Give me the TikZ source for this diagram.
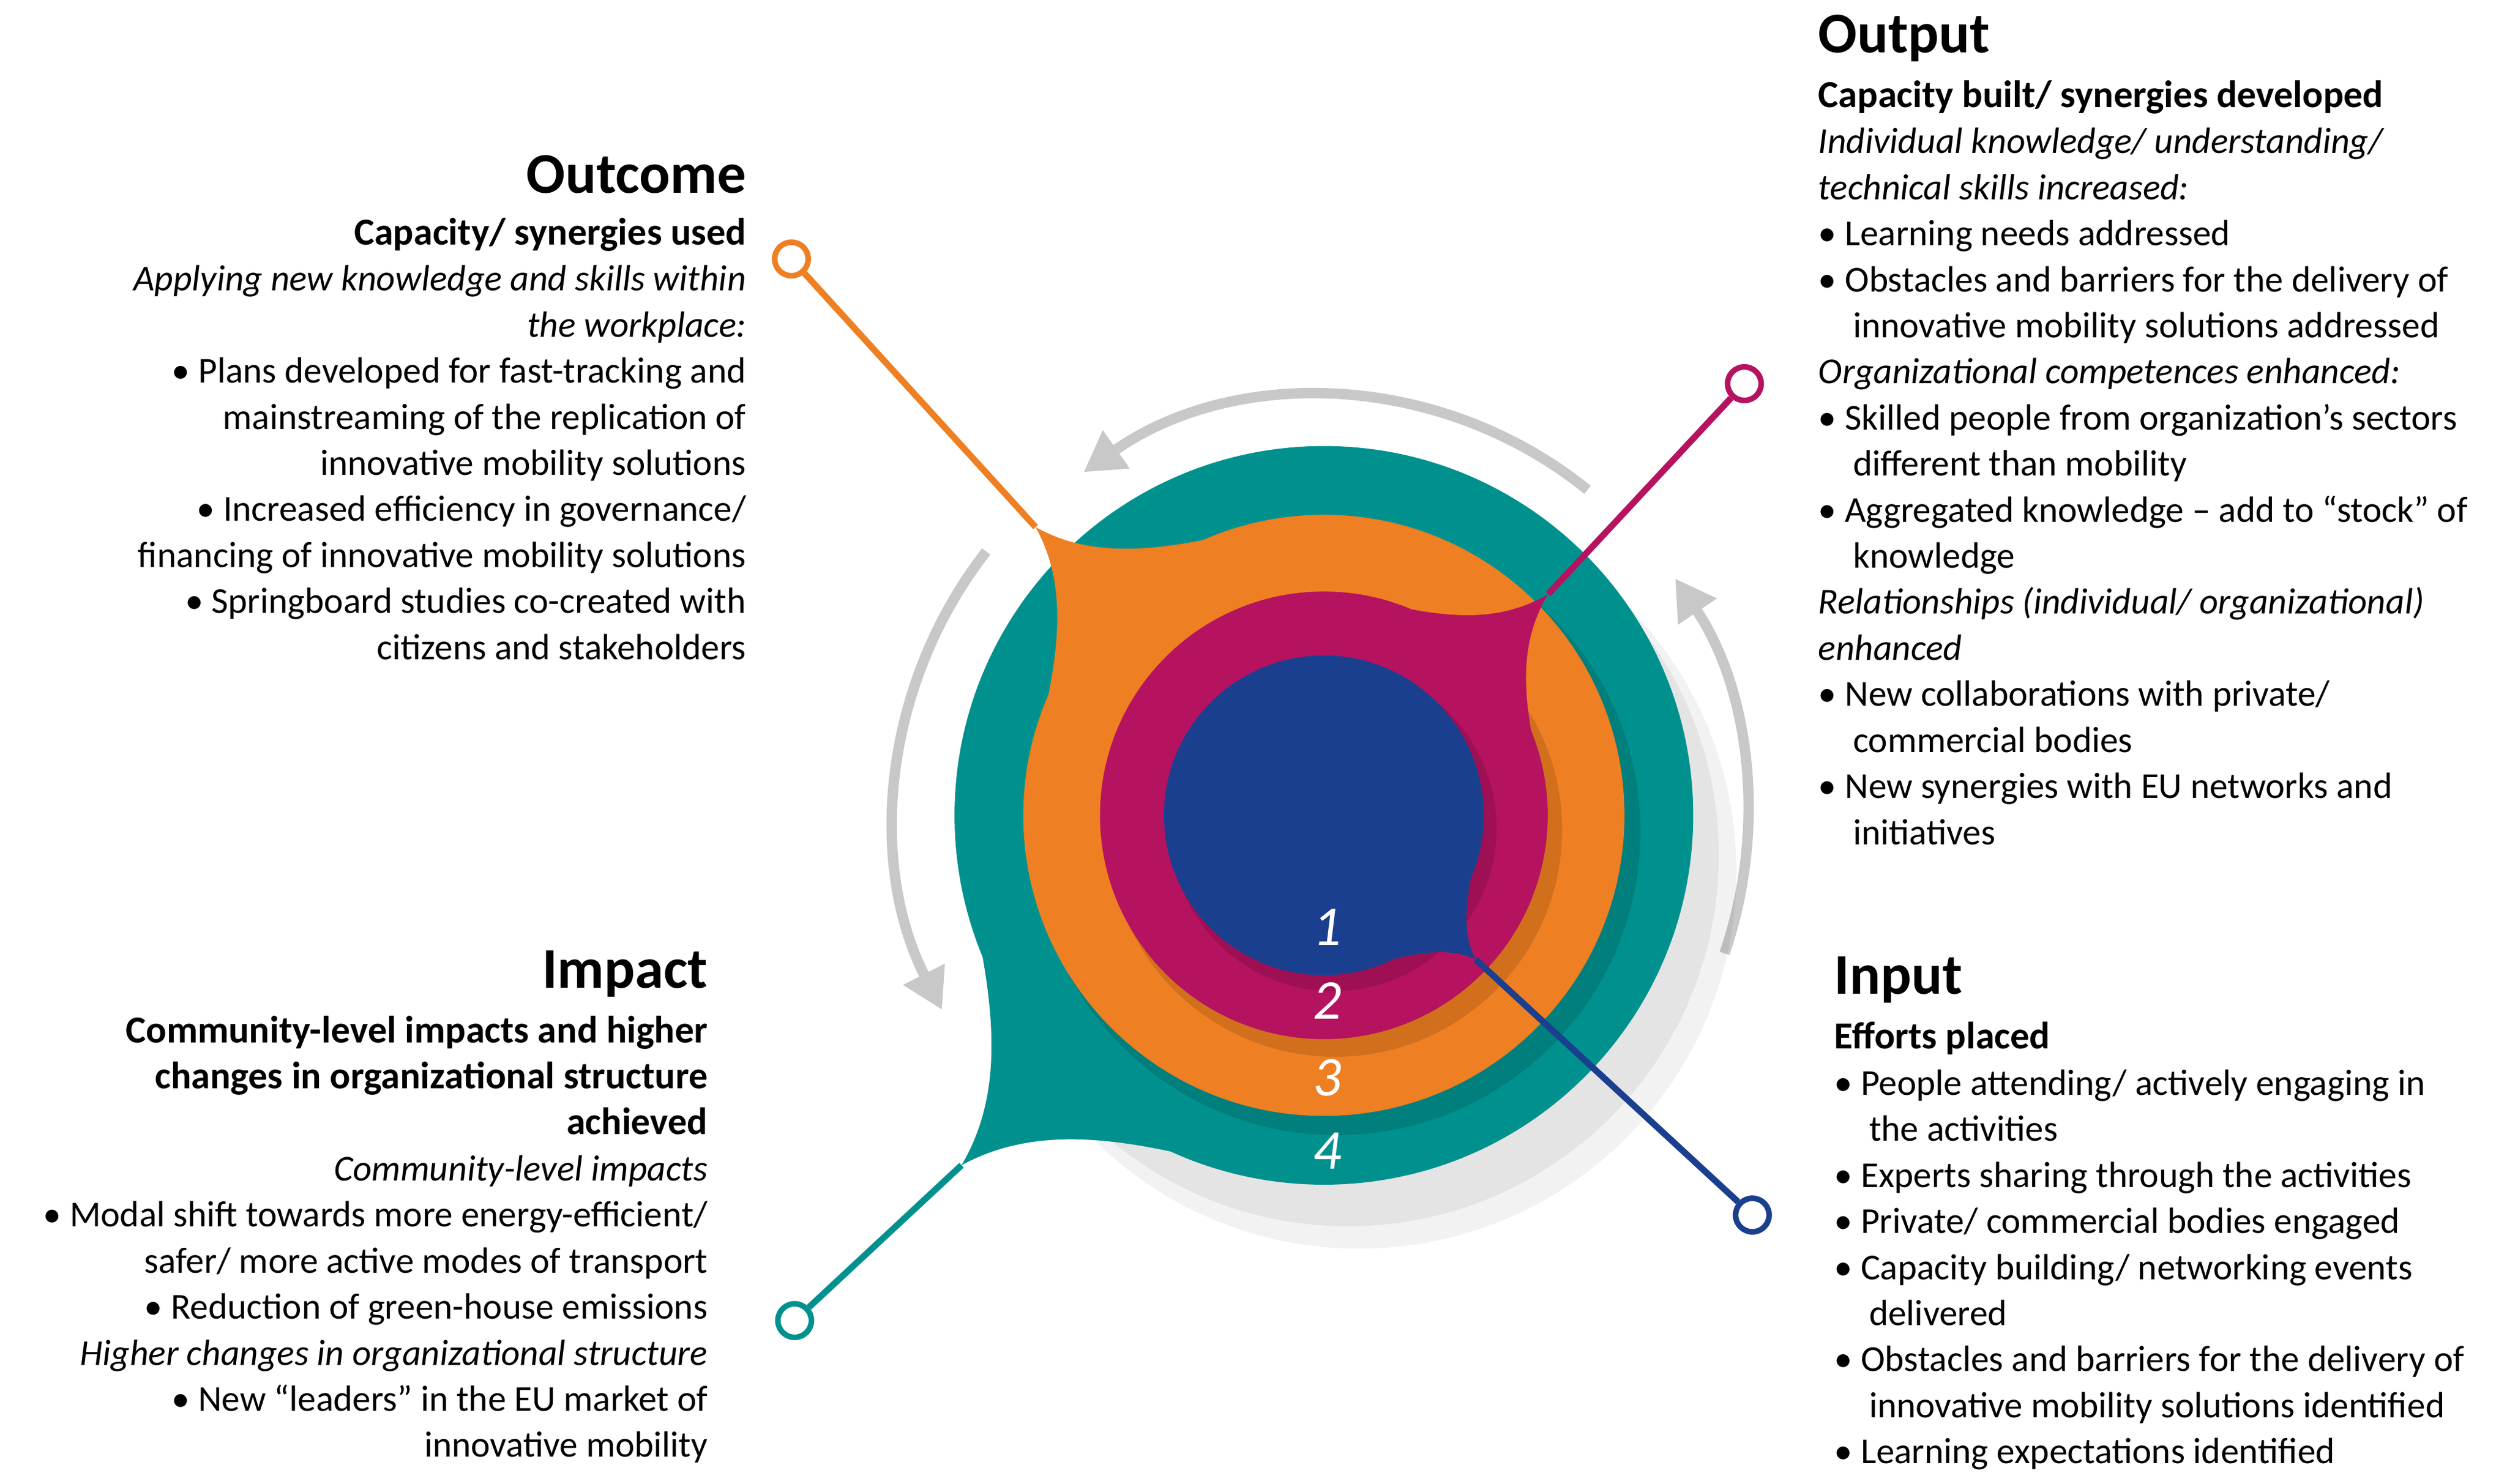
\documentclass[tikz,border=0pt]{standalone}
\usepackage{fontspec}
\setmainfont{Carlito}
\usetikzlibrary{calc,arrows.meta}
\definecolor{cteal}{HTML}{00918F}
\definecolor{corange}{HTML}{EE7F22}
\definecolor{cmag}{HTML}{B5135F}
\definecolor{cblue}{HTML}{1B3F8F}
\definecolor{cgray}{HTML}{C8C8C8}
\newcommand{\myblob}[4]{% color, angle, radius, tipdist
  \fill[#1] (0,0) circle (#3);
  \fill[#1] (#2:#4) .. controls (#2+4:{#3+0.25*(#4-#3)}) and (#2+20:#3) .. (#2+42:#3)
     -- (#2-42:#3) .. controls (#2-20:#3) and (#2-4:{#3+0.25*(#4-#3)}) .. (#2:#4) -- cycle;
}
\tikzset{
  head/.style={font=\fontsize{20.5}{24}\selectfont\bfseries, inner sep=0pt},
  body/.style={font=\fontsize{13}{16.4}\selectfont, inner sep=0pt},
  lnk/.style={line width=0.08cm},
  endc/.style={circle, draw, line width=0.07cm, fill=white, minimum size=0.42cm, inner sep=0pt},
  garrow/.style={cgray, line width=0.13cm, -{Triangle[length=0.5cm,width=0.55cm]}},
  num/.style={white, font=\fontsize{20}{24}\selectfont\itshape}
}
\newcommand{\bh}[1]{\textbf{\fontsize{13.6}{16.4}\selectfont #1}}
\begin{document}
\begin{tikzpicture}[x=0.02cm,y=-0.02cm]
\useasboundingbox (0,0) rectangle (1568,928);
% gray cycle arrows
\begin{scope}[shift={(828,510)}]
\draw[garrow] (-51:262) arc[start angle=-51,end angle=-125,radius=262];
\draw[garrow] (218:268) arc[start angle=218,end angle=153,radius=268];
\draw[garrow] (19:265) arc[start angle=19,end angle=-34,radius=265];
\end{scope}
% shadows
\fill[black,opacity=0.05] (850,545) circle (236);
\fill[black,opacity=0.06] (843,535) circle (232);
\begin{scope}[shift={(828,510)}]
\myblob{cteal}{136}{231}{315}
\fill[black,opacity=0.12] (8,10) circle (190);
\myblob{corange}{225}{188}{255}
\fill[black,opacity=0.12] (7,9) circle (142);
\myblob{cmag}{-44.6}{140}{197}
\fill[black,opacity=0.12] (6,8) circle (102);
\myblob{cblue}{43.5}{100}{131}
\coordinate (tT) at (136:315);
\coordinate (tO) at (225:255);
\coordinate (tM) at (-44.6:197);
\coordinate (tB) at (43.5:131);
\end{scope}
\node[num] (n1) at (830,580) {1};
\node[num] (n2) at (830,626) {2};
\node[num] (n3) at (830,674) {3};
\node[num] (n4) at (830,720) {4};
% connectors
\node[endc,draw=corange] (eO) at (495,162) {};
\node[endc,draw=cmag] (eM) at (1091,240) {};
\node[endc,draw=cteal] (eT) at (497,826) {};
\node[endc,draw=cblue] (eB) at (1096,760) {};
\draw[lnk,corange] (tO) -- (eO);
\draw[lnk,cmag] (tM) -- (eM);
\draw[lnk,cteal] (tT) -- (eT);
\draw[lnk,cblue] (tB) -- (eB);
% texts
\node[head,anchor=west] (hOut) at (1137,24) {Output};
\node[body,anchor=north west,align=left] (bOut) at (1137,50) {\bh{Capacity built/ synergies developed}\\
\textit{Individual knowledge/ understanding/}\\
\textit{technical skills increased:}\\
• Learning needs addressed\\
• Obstacles and barriers for the delivery of\\
\hspace*{0.95em}innovative mobility solutions addressed\\
\textit{Organizational competences enhanced:}\\
• Skilled people from organization’s sectors\\
\hspace*{0.95em}different than mobility\\
• Aggregated knowledge – add to “stock” of\\
\hspace*{0.95em}knowledge\\
\textit{Relationships (individual/ organizational)}\\
\textit{enhanced}\\
• New collaborations with private/\\
\hspace*{0.95em}commercial bodies\\
• New synergies with EU networks and\\
\hspace*{0.95em}initiatives};
\node[head,anchor=east] (hOc) at (467,109) {Outcome};
\node[body,anchor=north east,align=right] (bOc) at (467,136) {\bh{Capacity/ synergies used}\\
\textit{Applying new knowledge and skills within}\\
\textit{the workplace:}\\
• Plans developed for fast-tracking and\\
mainstreaming of the replication of\\
innovative mobility solutions\\
• Increased efficiency in governance/\\
financing of innovative mobility solutions\\
• Springboard studies co-created with\\
citizens and stakeholders};
\node[head,anchor=east] (hIm) at (443,609) {Impact};
\node[body,anchor=north east,align=right] (bIm) at (443,635) {\bh{Community-level impacts and higher}\\
\bh{changes in organizational structure}\\
\bh{achieved}\\
\textit{Community-level impacts}\\
• Modal shift towards more energy-efficient/\\
safer/ more active modes of transport\\
• Reduction of green-house emissions\\
\textit{Higher changes in organizational structure}\\
• New “leaders” in the EU market of\\
innovative mobility};
\node[head,anchor=west] (hIn) at (1147,613) {Input};
\node[body,anchor=north west,align=left] (bIn) at (1147,639) {\bh{Efforts placed}\\
• People attending/ actively engaging in\\
\hspace*{0.95em}the activities\\
• Experts sharing through the activities\\
• Private/ commercial bodies engaged\\
• Capacity building/ networking events\\
\hspace*{0.95em}delivered\\
• Obstacles and barriers for the delivery of\\
\hspace*{0.95em}innovative mobility solutions identified\\
• Learning expectations identified};
\end{tikzpicture}
\end{document}
